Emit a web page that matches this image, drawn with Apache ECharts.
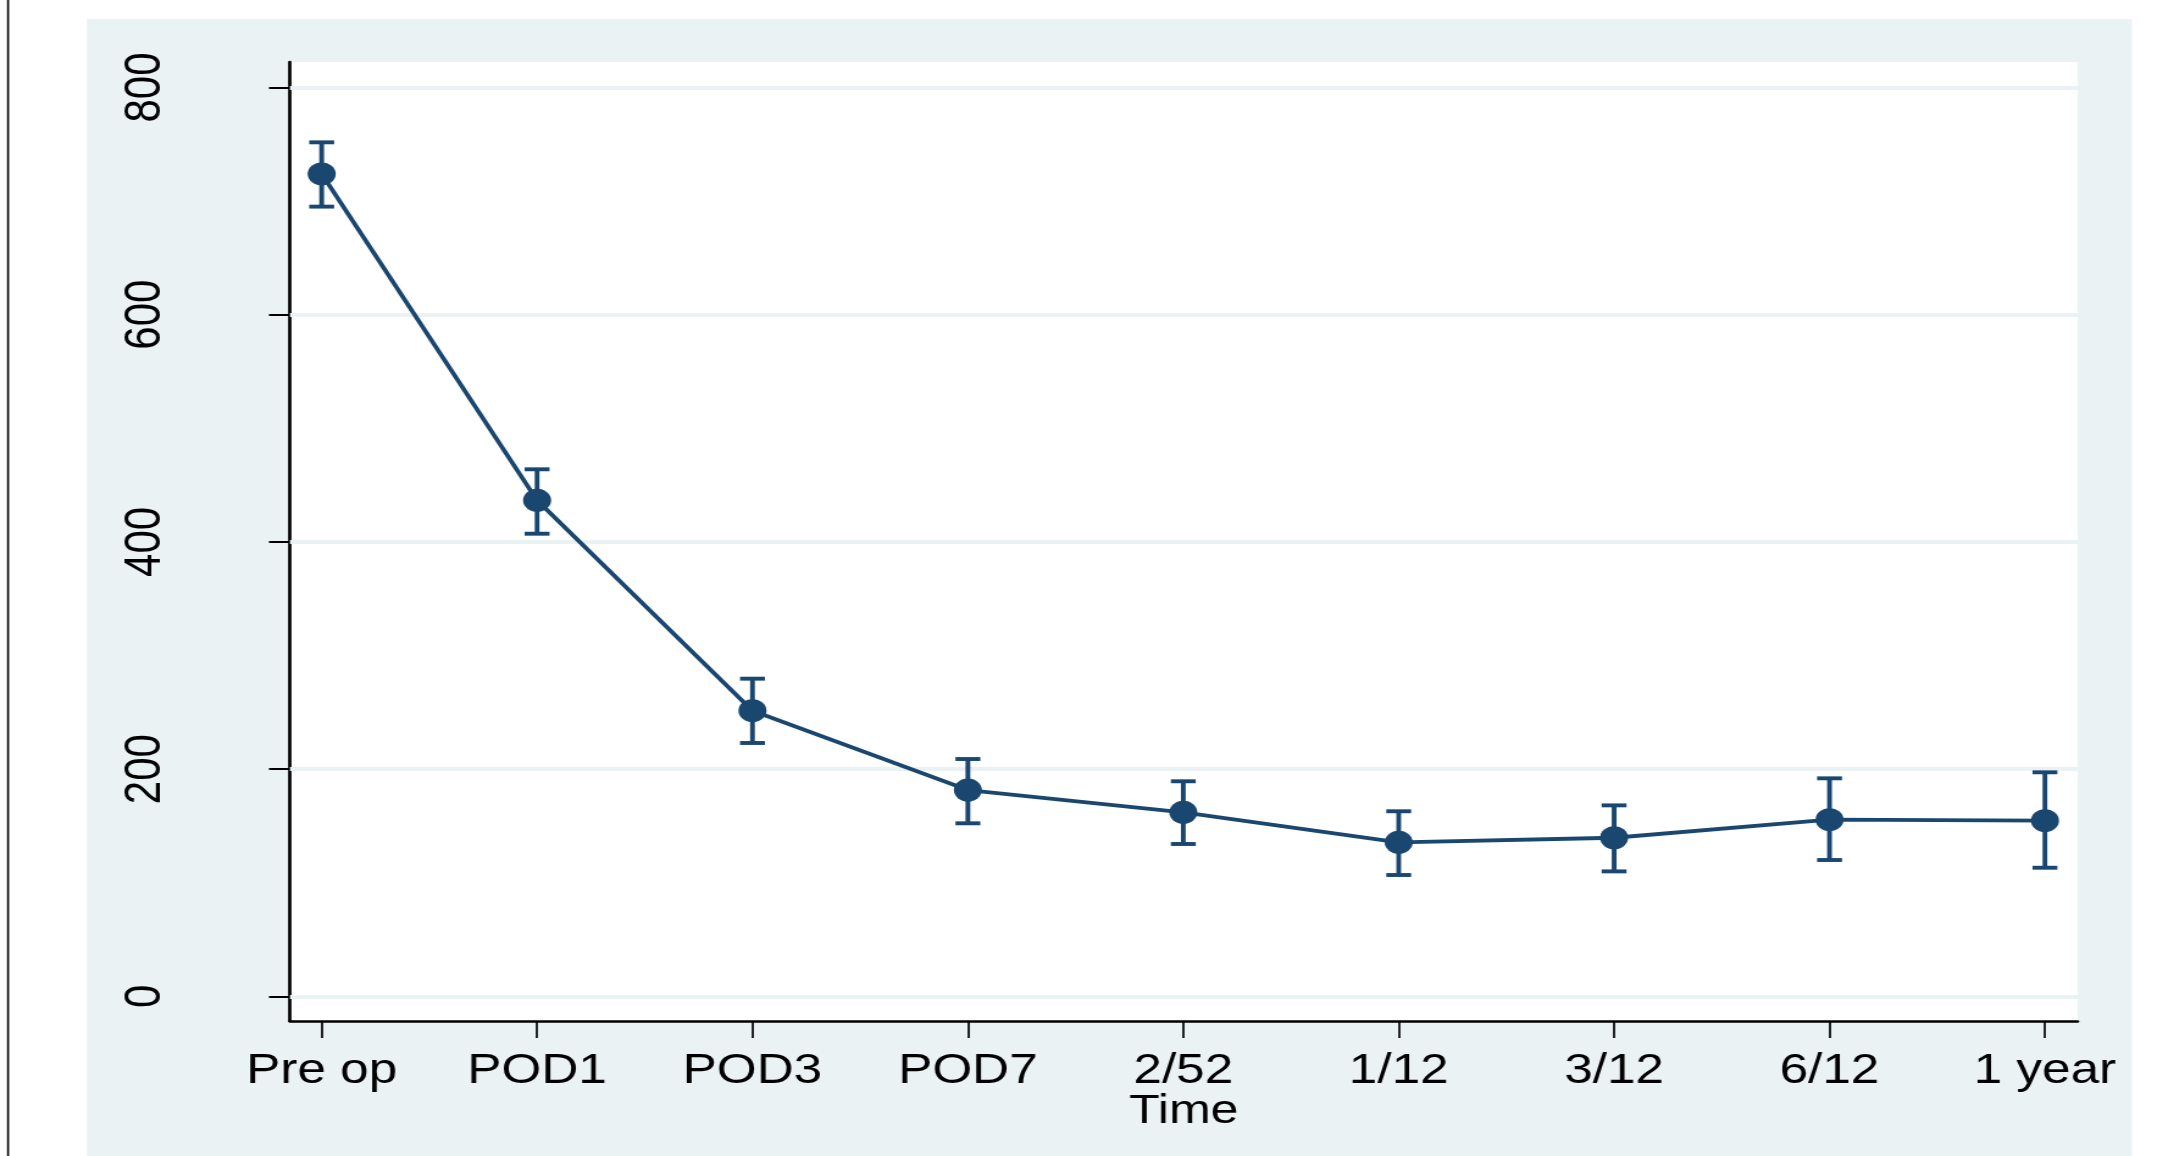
<!DOCTYPE html>
<html><head><meta charset="utf-8">
<script src="https://cdn.jsdelivr.net/npm/echarts@6/dist/echarts.min.js"></script>
<style>
html,body{margin:0;padding:0;background:#fff;overflow:hidden;width:2173px;height:1156px}
#wrap{width:2173px;height:1156px;overflow:hidden;position:relative}
#chart{position:absolute;left:0;top:0;width:1781px;height:1156px;transform:scaleX(1.22);transform-origin:0 0}
</style></head><body><div id="wrap"><div id="chart"></div></div>
<script>
const categories = ['Pre op','POD1','POD3','POD7','2/52','1/12','3/12','6/12','1 year'];
const means = [723.9, 436.6, 251.4, 181.6, 162.0, 135.6, 139.6, 155.5, 154.6];
const upper = [751.7, 463.9, 279.6, 208.9, 189.3, 162.9, 168.1, 191.9, 197.2];
const lower = [695.1, 407.2, 223.0, 152.3, 134.1, 106.8, 110.0, 120.0, 113.2];
const yTicks = [0, 200, 400, 600, 800];
const xTicks = [0, 1, 2, 3, 4, 5, 6, 7, 8];
const xTitle = 'Time';

const NAVY = '#1a476f';
const BG = '#eaf2f3';
const FONT = "'Liberation Sans', Arial, Helvetica, sans-serif";

const chart = echarts.init(document.getElementById('chart'), null, {renderer: 'canvas'});
chart.setOption({
  animation: false,
  backgroundColor: '#fff',
  textStyle: {fontFamily: FONT},
  graphic: [
    {type: 'rect', z: -100, shape: {x: 71.3, y: 19, width: 1676.2, height: 1137}, style: {fill: BG}, silent: true},
    {type: 'line', z: -90, shape: {x1: 6.6, y1: 0, x2: 6.6, y2: 1156}, style: {stroke: '#000', lineWidth: 1.6}, silent: true}
  ],
  grid: {left: 237.7, right: 78, top: 62, bottom: 135, show: true, backgroundColor: '#fff', borderWidth: 0, containLabel: false, outerBoundsMode: 'none'},
  xAxis: {
    type: 'value', min: -0.147, max: 8.152,
    name: xTitle, nameLocation: 'middle', nameGap: 70, nameMoveOverlap: false,
    nameTextStyle: {fontSize: 41, color: '#000', fontFamily: FONT},
    axisLine: {show: true, onZero: false, lineStyle: {color: '#000', width: 2.7}},
    axisTick: {show: true, customValues: xTicks, length: 17, lineStyle: {color: '#000', width: 1.7}},
    axisLabel: {show: true, customValues: xTicks, margin: 29, fontSize: 42, color: '#000', fontFamily: FONT,
      formatter: v => categories[Math.round(v)] || ''},
    splitLine: {show: false}
  },
  yAxis: {
    type: 'value', min: -21.7, max: 822.4,
    axisLine: {show: true, onZero: false, lineStyle: {color: '#000', width: 2.7}},
    axisTick: {show: true, customValues: yTicks, length: 17.2, lineStyle: {color: '#000', width: 2}},
    axisLabel: {show: true, customValues: yTicks, rotate: 90, margin: 97, fontSize: 42, color: '#000', fontFamily: FONT},
    splitLine: {show: false}
  },
  series: [
    {
      type: 'line',
      data: means.map((v, i) => [xTicks[i], v]),
      symbol: 'circle', symbolSize: 23,
      lineStyle: {color: NAVY, width: 3.8},
      itemStyle: {color: NAVY},
      z: 4,
      markLine: {
        silent: true, z: 1, symbol: ['none', 'none'], label: {show: false},
        lineStyle: {color: BG, width: 4, type: 'solid'},
        emphasis: {disabled: true},
        data: yTicks.map(v => ({yAxis: v}))
      }
    },
    {
      type: 'custom',
      z: 3,
      data: xTicks.map((x, i) => [x, lower[i], upper[i]]),
      encode: {x: 0, y: [1, 2]},
      renderItem: function (params, api) {
        const x = api.value(0);
        const lo = api.coord([x, api.value(1)]);
        const hi = api.coord([x, api.value(2)]);
        const hw = 10.2;
        const style = {stroke: NAVY, lineWidth: 3.9, fill: null};
        return {type: 'group', children: [
          {type: 'line', shape: {x1: lo[0], y1: lo[1], x2: hi[0], y2: hi[1]}, style: style},
          {type: 'line', shape: {x1: lo[0] - hw, y1: lo[1], x2: lo[0] + hw, y2: lo[1]}, style: style},
          {type: 'line', shape: {x1: hi[0] - hw, y1: hi[1], x2: hi[0] + hw, y2: hi[1]}, style: style}
        ]};
      }
    }
  ]
});
</script></body></html>
